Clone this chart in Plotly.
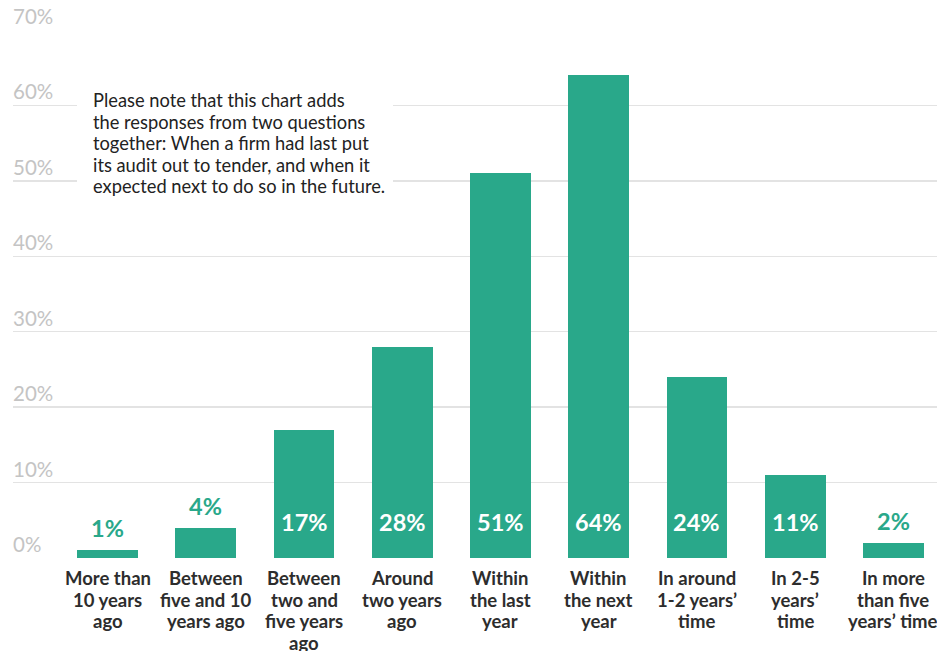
import plotly.graph_objects as go

categories = [
    ["More than", "10 years", "ago"],
    ["Between", "five and 10", "years ago"],
    ["Between", "two and", "five years", "ago"],
    ["Around", "two years", "ago"],
    ["Within", "the last", "year"],
    ["Within", "the next", "year"],
    ["In around", "1-2 years’", "time"],
    ["In 2-5", "years’", "time"],
    ["In more", "than five", "years’ time"],
]
values = [1, 4, 17, 28, 51, 64, 24, 11, 2]
y_ticks = [0, 10, 20, 30, 40, 50, 60, 70]
note_lines = [
    "Please note that this chart adds",
    "the responses from two questions",
    "together: When a firm had last put",
    "its audit out to tender, and when it",
    "expected next to do so in the future.",
]

TEAL = "#29a88a"
FONT = "Lato"
PX_PER_UNIT = 528 / 70.0  # plot height / y-range

x_idx = list(range(len(categories)))

fig = go.Figure()
fig.add_trace(go.Bar(
    x=x_idx, y=values, marker_color=TEAL, marker_line_width=0,
    width=0.62, hoverinfo="skip",
))

annotations = []
# y-axis labels sitting on the gridlines
for t in y_ticks:
    annotations.append(dict(
        x=0, xref="paper", y=t, yref="y", text=f"{t}%", showarrow=False,
        xanchor="left", yanchor="bottom", yshift=0, xshift=-2,
        font=dict(family=FONT, size=20.5, color="#c4c4c4"),
    ))
# value labels
for i, v in enumerate(values):
    if v >= 8:
        annotations.append(dict(
            x=i, y=0, text=f"{v}%", showarrow=False, yanchor="bottom", yshift=20,
            font=dict(family=FONT, size=23.5, color="white", weight="bold"),
        ))
    else:
        annotations.append(dict(
            x=i, y=v, text=f"{v}%", showarrow=False, yanchor="bottom", yshift=6,
            font=dict(family=FONT, size=23.5, color=TEAL, weight="bold"),
        ))
# category labels (one annotation per line for tighter line spacing)
for i, lines in enumerate(categories):
    for k, line in enumerate(lines):
        annotations.append(dict(
            x=i, y=0, text=line, showarrow=False, yanchor="middle",
            yshift=-(20 + 21.5 * k),
            font=dict(family=FONT, size=18.5, color="#2d2d2d", weight="bold"),
        ))
# note text
note_x = (92 - 107.5) / 98.25
for k, line in enumerate(note_lines):
    annotations.append(dict(
        x=note_x, y=70 - (100 + 21.5 * k - 30) / PX_PER_UNIT, text=line,
        showarrow=False, xanchor="left", yanchor="middle", xshift=-1,
        font=dict(family=FONT, size=18.3, color="#222222"),
    ))

fig.add_shape(
    type="rect", xref="x", yref="y",
    x0=(77 - 107.5) / 98.25, x1=(393 - 107.5) / 98.25,
    y0=70 - (205 - 30) / PX_PER_UNIT, y1=70 - (85 - 30) / PX_PER_UNIT,
    fillcolor="white", line_width=0, layer="above",
)

fig.update_layout(
    width=937, height=651,
    margin=dict(l=13, r=0, t=30, b=93),
    paper_bgcolor="white", plot_bgcolor="white",
    showlegend=False, bargap=0,
    annotations=annotations,
    xaxis=dict(
        range=[-0.962, 8.443], tickvals=x_idx, showticklabels=False,
        showgrid=False, zeroline=False, showline=False, ticks="", automargin=False,
        fixedrange=True,
    ),
    yaxis=dict(
        range=[0, 70], tickvals=y_ticks, showticklabels=False, automargin=False,
        showgrid=True, gridcolor="#e3e3e3", gridwidth=1.5, zeroline=False,
        fixedrange=True,
    ),
)

fig.write_html(
    "out.html",
    config={"displayModeBar": False, "staticPlot": True},
    post_script="document.body.style.margin='0';document.body.style.overflow='hidden';",
)
